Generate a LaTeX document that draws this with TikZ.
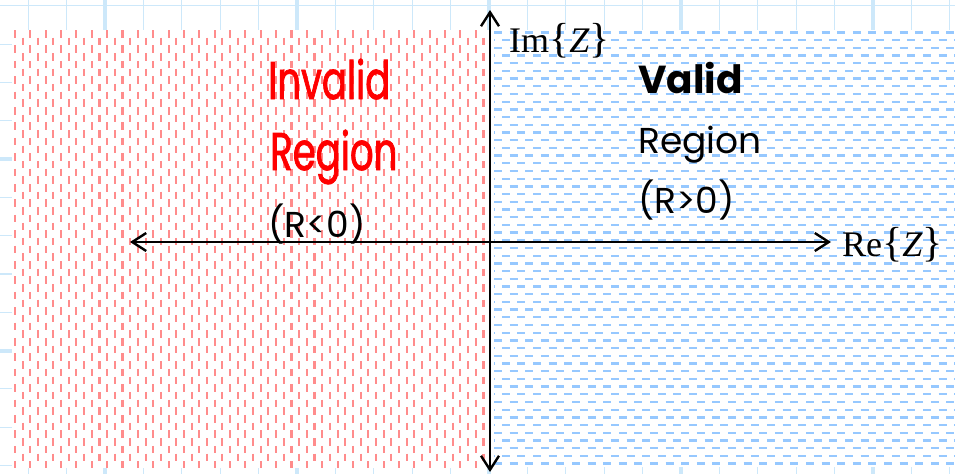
\documentclass[tikz,border=0pt]{standalone}
\usepackage{fontspec}
\usetikzlibrary{arrows.meta}
\newfontfamily\casualfont{Poppins}
\newfontfamily\handfont[FakeStretch=0.7,FakeBold=1.4]{Poppins}
\newfontfamily\serifaxis{Liberation Serif}
\definecolor{gridblue}{RGB}{205,232,250}
\definecolor{hatchred}{RGB}{255,140,140}
\definecolor{hatchblue}{RGB}{150,200,255}
\definecolor{labelred}{RGB}{255,0,0}
\newcommand{\bigbrace}[1]{{\fontsize{42}{42}\selectfont#1}}
\tikzset{
  gridline/.style={draw=gridblue, line width=1.2pt},
  gridmajor/.style={draw=gridblue, line width=4pt},
  reddash/.style={draw=hatchred, line width=2.1pt, dash pattern=on 7.5pt off 7.9pt},
  bluedash/.style={draw=hatchblue, line width=2.3pt, dash pattern=on 8pt off 7.6pt},
  axis/.style={line width=2.4pt, {Straight Barb[length=14pt,width=18pt,line width=2.4pt]}-{Straight Barb[length=14pt,width=18pt,line width=2.4pt]}},
  casual/.style={inner sep=0pt, anchor=base west, font=\casualfont\fontsize{36}{36}\selectfont},
  hand/.style={inner sep=0pt, anchor=base west, text=labelred, font=\handfont\fontsize{53}{53}\selectfont},
  axislabel/.style={inner sep=0pt, anchor=base west, font=\serifaxis\fontsize{36}{36}\selectfont}
}
\begin{document}
\begin{tikzpicture}[x=1pt, y=-1pt]
  \useasboundingbox (0,0) rectangle (955,474);
  \fill[white] (0,0) rectangle (955,474);

  % graph-paper grid
  \foreach \k in {0,...,24} {
    \pgfmathsetmacro{\gx}{28.2+38.4*\k}
    \pgfmathtruncatemacro{\m}{mod(\k,5)}
    \ifnum\m=2
      \draw[gridmajor] (\gx,0) -- (\gx,474);
    \else
      \draw[gridline] (\gx,0) -- (\gx,474);
    \fi
  }
  \foreach \k in {0,...,12} {
    \pgfmathsetmacro{\gy}{5.8+38.3*\k}
    \pgfmathtruncatemacro{\m}{mod(\k,5)}
    \ifnum\m=4
      \draw[gridmajor] (0,\gy) -- (955,\gy);
    \else
      \draw[gridline] (0,\gy) -- (955,\gy);
    \fi
  }

  % half-planes
  \fill[white] (12,30) rectangle (490,468);
  \fill[white] (490,30) rectangle (955,467);

  % left half-plane: vertical red hatching
  \begin{scope}
    \clip (12,30) rectangle (490,468);
    \foreach \k in {0,...,62} {
      \pgfmathsetmacro{\hx}{15+7.68*\k}
      \pgfmathtruncatemacro{\m}{mod(\k,2)}
      \ifnum\m=0
        \draw[reddash, dash phase=0pt] (\hx,30) -- (\hx,468);
      \else
        \draw[reddash, dash phase=7.7pt] (\hx,30) -- (\hx,468);
      \fi
    }
  \end{scope}

  % right half-plane: horizontal blue hatching
  \begin{scope}
    \clip (490,30) rectangle (955,467);
    \foreach \k in {0,...,57} {
      \pgfmathsetmacro{\hy}{32.4+7.7*\k}
      \pgfmathtruncatemacro{\m}{mod(\k,2)}
      \ifnum\m=0
        \draw[bluedash, dash phase=0pt] (494,\hy) -- (955,\hy);
      \else
        \draw[bluedash, dash phase=7.8pt] (494,\hy) -- (955,\hy);
      \fi
    }
  \end{scope}

  % axes
  \coordinate (xl) at (130,242);
  \coordinate (xr) at (831,242);
  \coordinate (yt) at (490,10);
  \coordinate (yb) at (490,472);
  \draw[axis] (xl) -- (xr);
  \draw[axis] (yb) -- (yt);

  % axis labels
  \node[axislabel] (imlabel) at (509,52) {Im\bigbrace{\{}\textit{Z}\bigbrace{\}}};
  \node[axislabel] (relabel) at (842,256) {Re\bigbrace{\{}\textit{Z}\bigbrace{\}}};

  % region labels
  \node[hand] (inv1) at (268,99) {Invalid};
  \node[hand] (inv2) at (270,170) {Region};
  \node[casual] (inv3) at (268,237) {(R<0)};

  \node[casual, font=\casualfont\bfseries\fontsize{39}{39}\selectfont] (val1) at (638,93) {Valid};
  \node[casual] (val2) at (638,153) {Region};
  \node[casual] (val3) at (638,213) {(R>0)};
\end{tikzpicture}
\end{document}
